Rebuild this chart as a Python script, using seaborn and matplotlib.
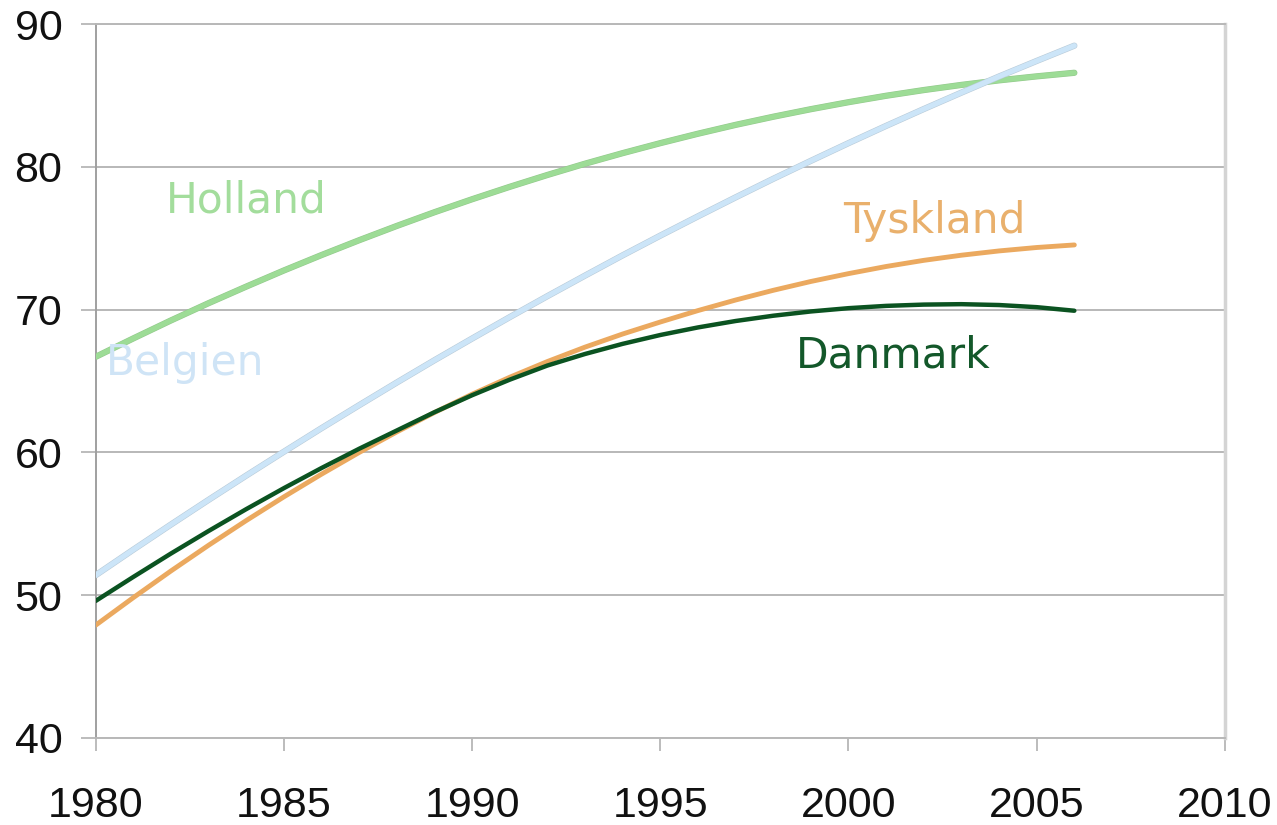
import pandas as pd
import seaborn as sns
import matplotlib.pyplot as plt
import matplotlib.patheffects as pe

# years shown on the chart (lines run 1980 - 2006)
years = list(range(1980, 2007))

# values, one per year
holland = [66.70, 67.99, 69.25, 70.46, 71.62, 72.75, 73.83, 74.87, 75.87, 76.83,
           77.74, 78.61, 79.44, 80.23, 80.97, 81.67, 82.33, 82.95, 83.52, 84.05,
           84.54, 84.99, 85.39, 85.75, 86.07, 86.35, 86.60]
belgien = [51.40, 53.19, 54.95, 56.68, 58.38, 60.05, 61.70, 63.31, 64.90, 66.46,
           67.98, 69.48, 70.95, 72.39, 73.81, 75.19, 76.54, 77.87, 79.17, 80.43,
           81.67, 82.88, 84.06, 85.21, 86.34, 87.43, 88.50]
danmark = [49.60, 51.28, 52.92, 54.50, 56.03, 57.50, 58.91, 60.26, 61.54, 62.82,
           64.01, 65.10, 66.09, 66.90, 67.61, 68.23, 68.76, 69.21, 69.58, 69.88,
           70.11, 70.27, 70.36, 70.39, 70.33, 70.18, 69.93]
tyskland = [47.90, 49.83, 51.70, 53.50, 55.23, 56.89, 58.48, 60.00, 61.44, 62.80,
            64.08, 65.27, 66.37, 67.38, 68.30, 69.14, 69.94, 70.68, 71.36, 71.98,
            72.53, 73.03, 73.46, 73.82, 74.12, 74.36, 74.54]

countries = ["Holland", "Belgien", "Tyskland", "Danmark"]
x_ticks = [1980, 1985, 1990, 1995, 2000, 2005, 2010]
y_ticks = [40, 50, 60, 70, 80, 90]

df = pd.DataFrame({"year": years, "Holland": holland, "Belgien": belgien,
                   "Danmark": danmark, "Tyskland": tyskland})
long = df.melt(id_vars="year", var_name="land", value_name="value")

line_colors = {"Holland": "#9ddc96", "Belgien": "#cce5f8",
               "Danmark": "#0b5321", "Tyskland": "#eba95f"}
text_colors = {"Holland": "#a3dd9c", "Belgien": "#cfe4f6",
               "Danmark": "#13582a", "Tyskland": "#e9b06c"}
widths = {"Holland": 3.7, "Belgien": 3.7, "Danmark": 3.2, "Tyskland": 3.5}
# label anchors (left edge, baseline) in data units
label_pos = {"Holland": (1981.87, 76.78), "Belgien": (1980.28, 65.43),
             "Tyskland": (1999.85, 75.37), "Danmark": (1998.6, 65.98)}

sns.set_style("white")
plt.rcParams["font.family"] = ["Liberation Sans", "DejaVu Sans"]

fig = plt.figure(figsize=(12.77, 8.25), dpi=100)
ax = fig.add_axes([0.0749, 0.1055, 0.8843, 0.8651])

for land in countries:
    sub = long[long["land"] == land]
    effects = None
    if land in ("Belgien", "Holland"):
        edge = "#b9cbd8" if land == "Belgien" else "#93c98c"
        effects = [pe.Stroke(linewidth=widths[land] + 0.8, foreground=edge), pe.Normal()]
    sns.lineplot(data=sub, x="year", y="value", color=line_colors[land],
                 linewidth=widths[land], ax=ax, legend=False,
                 path_effects=effects, solid_capstyle="round", zorder=3)
    lx, ly = label_pos[land]
    ax.text(lx, ly, land, color=text_colors[land], fontsize=30.5,
            family="DejaVu Sans", ha="left", va="baseline", zorder=4)

ax.set_xlim(1980, 2010)
ax.set_ylim(40, 90)
ax.set_xticks(x_ticks)
ax.set_yticks(y_ticks)
ax.set_xlabel("")
ax.set_ylabel("")

ax.yaxis.grid(True, color="#b8b8b8", linewidth=1.4, zorder=0)
ax.xaxis.grid(False)
ax.set_axisbelow(True)

for side in ["top", "bottom"]:
    ax.spines[side].set_color("#b8b8b8")
    ax.spines[side].set_linewidth(1.4)
ax.spines["left"].set_color("#a0a0a0")
ax.spines["left"].set_linewidth(1.4)
ax.spines["right"].set_color("#d4d4d4")
ax.spines["right"].set_linewidth(2.5)

ax.tick_params(axis="y", direction="out", length=10.5, width=1.2, color="#b0b0b0",
               pad=13.5, labelsize=31, labelcolor="#111111", left=True)
ax.tick_params(axis="x", direction="out", length=9.5, width=1.2, color="#b0b0b0",
               pad=25, labelsize=31, labelcolor="#111111", bottom=True)

plt.savefig("out.png", dpi=100)
